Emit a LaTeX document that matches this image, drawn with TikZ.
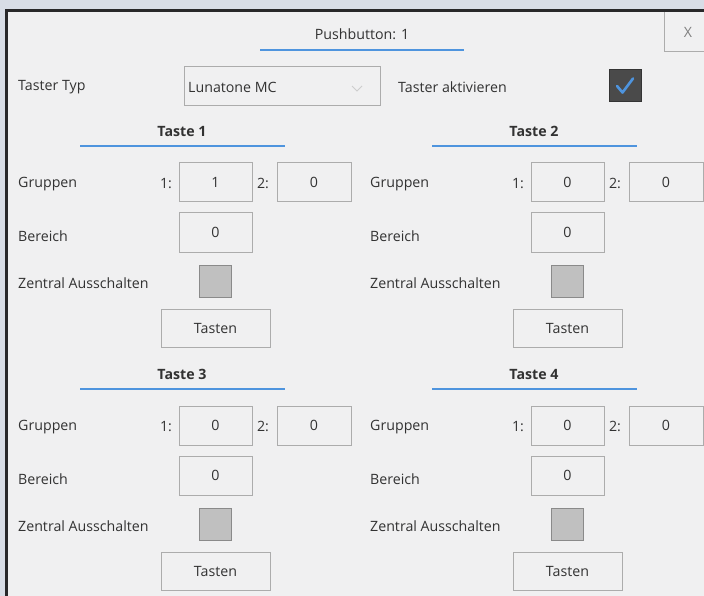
\documentclass[tikz,border=0pt]{standalone}
\usepackage{fontspec}
\setmainfont{Open Sans}
\usetikzlibrary{positioning}
\definecolor{deskbg}{RGB}{216,221,230}
\definecolor{winbg}{RGB}{240,240,241}
\definecolor{frame}{RGB}{40,40,42}
\definecolor{fieldline}{RGB}{172,172,172}
\definecolor{accent}{RGB}{78,148,222}
\definecolor{labeltext}{RGB}{50,50,50}
\definecolor{tickbox}{RGB}{74,74,74}
\definecolor{offbox}{RGB}{192,192,192}
\newcommand{\uifont}{\fontsize{14.2}{17}\selectfont}

\tikzset{
  lbl/.style={anchor=west, inner sep=0pt, text=labeltext, font=\uifont},
  hdr/.style={inner sep=0pt, text=labeltext, font=\uifont\bfseries},
  field/.style={draw=fieldline, line width=1pt, fill=winbg, inner sep=0pt,
    minimum width=73pt, minimum height=39pt, text=labeltext, font=\uifont},
  btn/.style={field, minimum width=109pt, minimum height=38pt},
  switch/.style={draw=fieldline!80!black, line width=0.8pt, fill=offbox,
    minimum size=32pt, inner sep=0pt},
  uline/.style={accent, line width=2pt},
}

\begin{document}
\begin{tikzpicture}[x=1pt, y=-1pt]
  \useasboundingbox (0,0) rectangle (704,596);
  \fill[deskbg] (0,0) rectangle (704,596);
  \fill[winbg] (6,11) rectangle (704,596);
  \draw[frame, line width=3pt] (6,600) -- (6,11) -- (710,11);

  % title bar
  \node[lbl, anchor=center] (title) at (362,34.5) {Pushbutton: 1};
  \draw[uline] (260,50) -- (464,50);
  \draw[fieldline, line width=1pt] (664,12.5) -- (664,52) -- (706,52);
  \node[lbl, anchor=center, text=gray] (close) at (688,32) {X};

  % type selection
  \node[lbl] (typ) at (18,87) {Taster Typ};
  \draw[fieldline, line width=1pt] (184,67) rectangle (380,106);
  \node[lbl] (combo) at (188,87) {Lunatone MC};
  \draw[fieldline!60, line width=0.8pt] (352,86) -- (357,91) -- (362,86);
  \node[lbl] (aktiv) at (398,87) {Taster aktivieren};
  \node[switch, draw=tickbox!70!black, fill=tickbox] (check) at (625,85) {};
  \draw[accent, line width=2.6pt, line cap=round, line join=round]
    (617,86) -- (622.5,92.5) -- (633,78.5);

  % the four key blocks
  \foreach \k/\dx/\dy/\va in {1/0/0/1, 2/352/0/0, 3/0/243/0, 4/352/243/0} {
    \begin{scope}[shift={(\dx,\dy)}]
      \node[hdr] (taste\k) at (182,131.5) {Taste \k};
      \draw[uline] (80,146) -- (285,146);

      \node[lbl] (grp\k) at (18,184) {Gruppen};
      \node[lbl, anchor=center] (n1\k) at (166,183.5) {1:};
      \node[field] (grpa\k) at (215.5,182.5) {\va};
      \node[lbl, anchor=center] (n2\k) at (263,183.5) {2:};
      \node[field, minimum width=74pt] (grpb\k) at (314,182.5) {0};

      \node[lbl] (ber\k) at (18,236) {Bereich};
      \node[field] (bera\k) at (215.5,232.5) {0};

      \node[lbl] (zen\k) at (18,283) {Zentral Ausschalten};
      \node[switch] (zsw\k) at (215,281) {};

      \node[btn] (tasten\k) at (215.5,328) {Tasten};
    \end{scope}
  }
\end{tikzpicture}
\end{document}
